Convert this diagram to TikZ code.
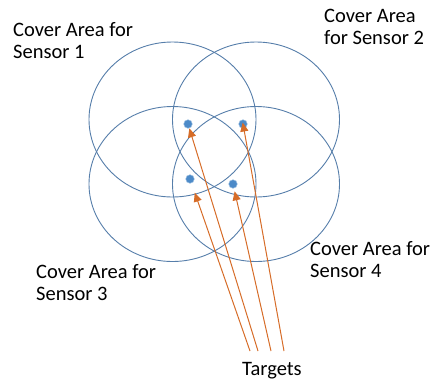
\documentclass[tikz,border=0pt]{standalone}
\usepackage{fontspec}
\setmainfont{Carlito}
\usepackage{tikz}
\usetikzlibrary{shapes.geometric,arrows.meta}
\definecolor{ringblue}{RGB}{86,126,170}
\definecolor{dotblue}{RGB}{76,138,200}
\definecolor{tipred}{RGB}{214,108,40}

\begin{document}
\begin{tikzpicture}[x=1pt,y=-1pt,
    area/.style={ellipse, draw=ringblue, line width=0.9pt, minimum width=167pt, minimum height=155pt, inner sep=0pt},
    target/.style={circle, fill=dotblue, draw=dotblue!60!white, line width=0.5pt, minimum size=8.5pt, inner sep=0pt},
    pointer/.style={draw=tipred, line width=1pt, -{Triangle[length=9pt,width=8pt]}},
    lbl/.style={align=left, anchor=base west, inner sep=0pt, font=\fontsize{20.5}{22}\selectfont}]
  \useasboundingbox (0,0) rectangle (432,381);
  \node[area] (c1) at (172.5,119.5) {};
  \node[area] (c2) at (256,119.5) {};
  \node[area] (c3) at (172.5,184) {};
  \node[area] (c4) at (256,184) {};
  \node[target] (p1) at (188,124) {};
  \node[target] (p2) at (243,124) {};
  \node[target] (p3) at (190,179) {};
  \node[target] (p4) at (233,184) {};
  % base anchor sits on the last line
  \node[lbl] (s1) at (13,58.5) {Cover Area for\\Sensor 1};
  \node[lbl] (s2) at (324,44) {Cover Area\\for Sensor 2};
  \node[lbl] (s3) at (36,300) {Cover Area for\\Sensor 3};
  \node[lbl] (s4) at (310,277) {Cover Area for\\Sensor 4};
  \node[lbl] (tg) at (242,375) {Targets};
  \coordinate (t1) at (250,351);
  \coordinate (t2) at (258,351);
  \coordinate (t3) at (271,351);
  \coordinate (t4) at (284,351);
  \draw[pointer] (t2) -- (p1);
  \draw[pointer, shorten >=-6pt] (t4) -- (p2);
  \draw[pointer, shorten >=10pt] (t1) -- (p3);
  \draw[pointer, shorten >=3pt] (t3) -- (p4);
\end{tikzpicture}
\end{document}
